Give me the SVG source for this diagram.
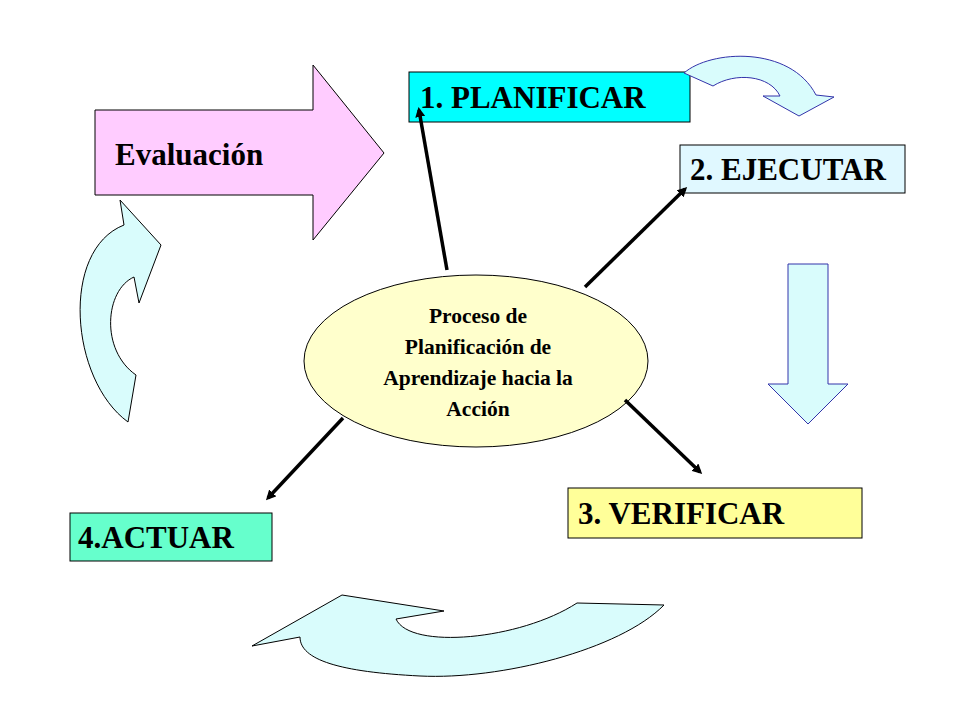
<svg xmlns="http://www.w3.org/2000/svg" width="960" height="720" viewBox="0 0 960 720">
<defs>
<marker id="ah" markerWidth="10" markerHeight="10" refX="7" refY="5" orient="auto" markerUnits="userSpaceOnUse"><path d="M0,0 L10,5 L0,10 Z" fill="#000"/></marker>
<style>
.t{font-family:"Liberation Serif",serif;font-weight:bold;fill:#000}
.big{font-size:31px}
.sm{font-size:21.5px}
.bx{stroke:#000;stroke-width:1}
.cv{fill:#d9fcfc;stroke:#000;stroke-width:1}
.cn{stroke:#000;stroke-width:3.5;fill:none;marker-end:url(#ah)}
</style>
</defs>
<rect width="960" height="720" fill="#fff"/>
<g id="evaluacion"><path class="bx" d="M95,110 H313 V65 L384,153 L313,240 V195 H95 Z" fill="#ffccff"/><text class="t big" x="115" y="165">Evaluación</text></g>
<g id="planificar"><rect class="bx" x="409" y="72" width="281" height="50" fill="#00ffff"/><text class="t big" x="420" y="108">1. PLANIFICAR</text></g>
<g id="ejecutar"><rect class="bx" x="680" y="145" width="225" height="48" fill="#e0f8ff"/><text class="t big" x="690" y="180">2. EJECUTAR</text></g>
<g id="verificar"><rect class="bx" x="568" y="488" width="294" height="50" fill="#ffff99"/><text class="t big" x="578" y="524">3. VERIFICAR</text></g>
<g id="actuar"><rect class="bx" x="70" y="513" width="202" height="48" fill="#66ffcc"/><text class="t big" x="78" y="548">4.ACTUAR</text></g>
<g id="centro"><ellipse class="bx" cx="476" cy="361" rx="172" ry="86" fill="#ffffcc"/>
<text class="t sm" text-anchor="middle"><tspan x="478" y="323">Proceso de</tspan><tspan x="478" y="354">Planificación de</tspan><tspan x="478" y="385">Aprendizaje hacia la</tspan><tspan x="478" y="416">Acción</tspan></text></g>
<g id="flechas">
<path class="cv" d="M684,73 C710,50 790,45 816,95 L834,97 L799,116 L763,96 L780,96 C770,75 735,72 713,86 Z" style="stroke:#3333aa"/>
<path class="cv" d="M788,264 H828 V384 H848 L808,424 L768,384 H788 Z" style="stroke:#3333aa"/>
<path class="cv" d="M252,646 L342,595 L444,611 L396,619 C410,650 520,640 577,603 L664,605 C620,650 500,680 420,676 C340,672 300,660 300,637 Z"/>
<path class="cv" d="M120,200 L161,245 L139,303 L134,277 C105,290 100,350 136,375 L128,422 C70,380 60,250 124,225 Z"/>
</g>
<g id="connectors">
<line class="cn" x1="447" y1="270" x2="419" y2="110"/>
<line class="cn" x1="585" y1="287" x2="685" y2="189"/>
<line class="cn" x1="625" y1="400" x2="700" y2="472"/>
<line class="cn" x1="343" y1="418" x2="268" y2="498"/>
</g>
</svg>
